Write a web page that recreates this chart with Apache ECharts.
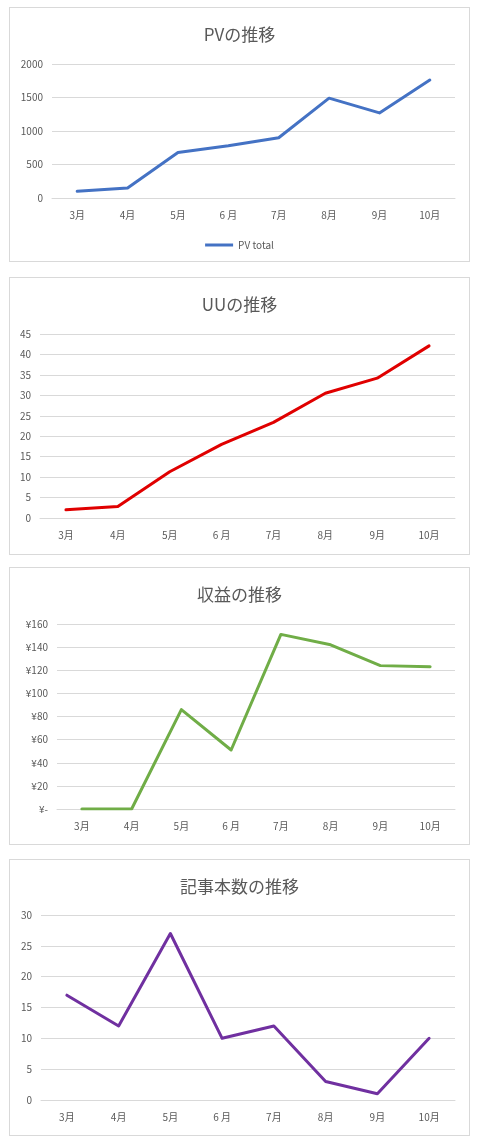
<!DOCTYPE html>
<html>
<head>
<meta charset="utf-8">
<script src="https://cdn.jsdelivr.net/npm/echarts@6/dist/echarts.min.js"></script>
<style>
html,body{margin:0;padding:0;background:#fff;width:480px;height:1141px;overflow:hidden;}
.panel{position:absolute;left:9px;width:461px;border:1px solid #d9d9d9;box-sizing:border-box;background:#fff;}
</style>
</head>
<body>
<div id="c1" class="panel" style="top:7px;height:255px;"></div>
<div id="c2" class="panel" style="top:277px;height:278px;"></div>
<div id="c3" class="panel" style="top:567px;height:278px;"></div>
<div id="c4" class="panel" style="top:859px;height:277px;"></div>
<script>
const months = ['3月','4月','5月','6 月','7月','8月','9月','10月'];
const pvTotal = [100, 150, 680, 780, 900, 1490, 1270, 1760];
const uu = [2.0, 2.8, 11.3, 18.0, 23.4, 30.5, 34.2, 42.1];
const revenue = [0, 0, 86, 51, 151, 142, 124, 123];
const articles = [17, 12, 27, 10, 12, 3, 1, 10];

const FONT = '"Noto Sans CJK JP", "Noto Sans", sans-serif';
const TXT = '#595959';
const GRID = '#d9d9d9';

function makeOption(cfg){
  const opt = {
    animation:false,
    title:{text:cfg.title,left:'center',top:13,textStyle:{fontFamily:FONT,fontSize:17,fontWeight:'normal',color:TXT}},
    grid:cfg.grid,
    xAxis:{type:'category',data:months,boundaryGap:true,
      axisLine:{show:true,lineStyle:{color:GRID,width:1}},
      axisTick:{show:false},
      axisLabel:{color:TXT,fontFamily:FONT,fontSize:10,margin:12}},
    yAxis:{type:'value',min:0,max:cfg.max,interval:cfg.interval,
      axisLine:{show:false},axisTick:{show:false},
      splitLine:{lineStyle:{color:GRID,width:1}},
      axisLabel:{color:TXT,fontFamily:FONT,fontSize:10,margin:9,
        formatter:cfg.fmt || function(v){return String(v);}}},
    series:[{type:'line',name:cfg.name,data:cfg.data,showSymbol:false,symbol:'none',
      lineStyle:{color:cfg.color,width:3,cap:'round',join:'round'},itemStyle:{color:cfg.color}}]
  };
  if(cfg.legend){
    opt.legend={show:true,bottom:6,left:'center',icon:'rect',itemWidth:28,itemHeight:3,itemGap:4,
      textStyle:{color:TXT,fontFamily:FONT,fontSize:10},data:[cfg.name]};
  }
  return opt;
}

echarts.init(document.getElementById('c1')).setOption(makeOption({
  title:'PVの推移',name:'PV total',data:pvTotal,color:'#4472C4',max:2000,interval:500,
  grid:{left:42,right:14,top:56,bottom:63},legend:true}));
echarts.init(document.getElementById('c2')).setOption(makeOption({
  title:'UUの推移',name:'UU',data:uu,color:'#E00000',max:45,interval:5,
  grid:{left:30,right:14,top:56,bottom:36}}));
echarts.init(document.getElementById('c3')).setOption(makeOption({
  title:'収益の推移',name:'収益',data:revenue,color:'#70AD47',max:160,interval:20,
  fmt:function(v){return v===0?'¥-':'¥'+v;},
  grid:{left:47,right:14,top:56,bottom:35}}));
echarts.init(document.getElementById('c4')).setOption(makeOption({
  title:'記事本数の推移',name:'記事本数',data:articles,color:'#7030A0',max:30,interval:5,
  grid:{left:31,right:14,top:55,bottom:35}}));
</script>
</body>
</html>
